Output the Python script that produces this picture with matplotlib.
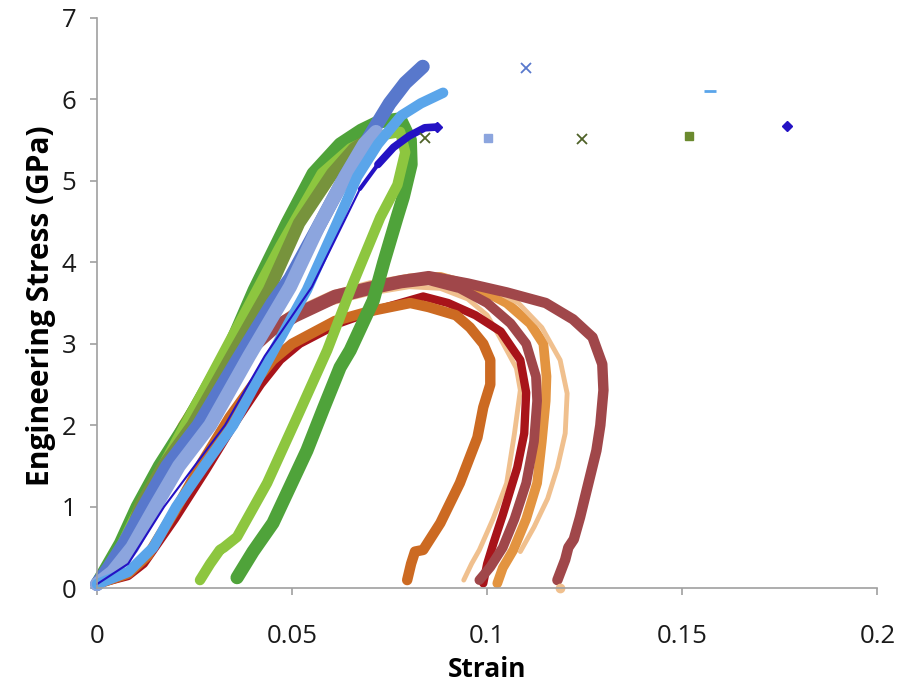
import matplotlib
matplotlib.use("Agg")
import matplotlib.pyplot as plt

plt.rcParams['font.family'] = ['Open Sans', 'DejaVu Sans']

# ---- orange / red group (lower peak, long tail) ----
tan_left_x = [0, 0.006, 0.012, 0.02, 0.03, 0.04, 0.05, 0.06, 0.07, 0.08, 0.088, 0.095, 0.1, 0.103, 0.1075, 0.1085, 0.107, 0.105, 0.1015, 0.098, 0.096, 0.094]
tan_left_y = [0.05, 0.4, 0.95, 1.7, 2.45, 3.0, 3.3, 3.5, 3.62, 3.7, 3.68, 3.55, 3.35, 3.1, 2.7, 2.43, 1.9, 1.29, 0.85, 0.47, 0.3, 0.1]

red_x = [0, 0.008, 0.012, 0.02, 0.028, 0.035, 0.042, 0.047, 0.052, 0.062, 0.072, 0.0836, 0.09, 0.097, 0.1035, 0.1085, 0.11, 0.1095, 0.1077, 0.104, 0.1016, 0.1, 0.099]
red_y = [0.05, 0.15, 0.3, 0.85, 1.45, 2.0, 2.5, 2.8, 3.0, 3.25, 3.42, 3.58, 3.5, 3.35, 3.15, 2.8, 2.4, 1.9, 1.48, 0.9, 0.55, 0.3, 0.06]

orange_x = [0, 0.005, 0.01, 0.016, 0.022, 0.03, 0.04, 0.05, 0.06, 0.07, 0.08, 0.088, 0.097, 0.105, 0.111, 0.1144, 0.1152, 0.115, 0.114, 0.1128, 0.11, 0.1067, 0.104, 0.1026]
orange_y = [0.05, 0.4, 0.9, 1.45, 2.0, 2.6, 3.05, 3.35, 3.55, 3.7, 3.8, 3.82, 3.7, 3.5, 3.25, 3.0, 2.6, 2.3, 1.8, 1.29, 0.85, 0.47, 0.25, 0.06]

tan_right_x = [0, 0.006, 0.012, 0.02, 0.03, 0.04, 0.05, 0.06, 0.07, 0.08, 0.09, 0.1, 0.108, 0.114, 0.1187, 0.1205, 0.12, 0.118, 0.1155, 0.112, 0.1085]
tan_right_y = [0.05, 0.35, 0.9, 1.6, 2.4, 3.0, 3.4, 3.62, 3.75, 3.83, 3.82, 3.7, 3.5, 3.2, 2.8, 2.39, 1.9, 1.48, 1.1, 0.75, 0.45]

brown_in_x = [0, 0.006, 0.012, 0.02, 0.03, 0.038, 0.045, 0.0508, 0.061, 0.07, 0.078, 0.085, 0.093, 0.1, 0.106, 0.11, 0.1125, 0.1128, 0.112, 0.11, 0.107, 0.104, 0.1008, 0.098]
brown_in_y = [0.05, 0.3, 0.8, 1.5, 2.3, 2.85, 3.15, 3.32, 3.55, 3.66, 3.74, 3.78, 3.68, 3.5, 3.25, 3.0, 2.6, 2.3, 1.8, 1.29, 0.85, 0.5, 0.26, 0.1]

dkorange_x = [0, 0.008, 0.013, 0.02, 0.027, 0.034, 0.04, 0.045, 0.05, 0.061, 0.07, 0.0803, 0.085, 0.092, 0.0956, 0.099, 0.1008, 0.1008, 0.099, 0.0975, 0.093, 0.088, 0.0836, 0.0815, 0.0805, 0.0795]
dkorange_y = [0.05, 0.18, 0.4, 0.95, 1.55, 2.1, 2.5, 2.8, 3.0, 3.28, 3.4, 3.5, 3.45, 3.35, 3.2, 3.0, 2.8, 2.5, 2.22, 1.85, 1.29, 0.8, 0.47, 0.45, 0.3, 0.1]

brown_x = [0, 0.006, 0.012, 0.02, 0.03, 0.038, 0.045, 0.0508, 0.061, 0.07, 0.078, 0.085, 0.095, 0.105, 0.115, 0.122, 0.127, 0.1295, 0.1298, 0.129, 0.128, 0.126, 0.1238, 0.1222, 0.1208, 0.12, 0.118]
brown_y = [0.05, 0.3, 0.8, 1.5, 2.35, 2.9, 3.2, 3.37, 3.6, 3.7, 3.78, 3.83, 3.74, 3.63, 3.5, 3.3, 3.08, 2.75, 2.43, 2.0, 1.69, 1.3, 0.87, 0.6, 0.5, 0.35, 0.1]

# ---- green group ----
dkgreen_x = [0, 0.003, 0.006, 0.0103, 0.016, 0.0233, 0.0336, 0.0403, 0.0487, 0.0554, 0.0623, 0.0677, 0.072, 0.0777, 0.0803, 0.0805, 0.0785, 0.0769, 0.0735, 0.0708, 0.0649, 0.0623, 0.058, 0.0538, 0.0495, 0.0451, 0.04, 0.0359]
dkgreen_y = [0.05, 0.3, 0.55, 1.0, 1.5, 2.05, 2.92, 3.66, 4.48, 5.09, 5.45, 5.62, 5.72, 5.76, 5.5, 5.2, 4.8, 4.55, 4.0, 3.53, 2.92, 2.71, 2.2, 1.69, 1.25, 0.8, 0.45, 0.13]

ltgreen_x = [0, 0.005, 0.011, 0.018, 0.027, 0.037, 0.047, 0.0576, 0.065, 0.072, 0.0777, 0.079, 0.077, 0.0726, 0.0656, 0.059, 0.0513, 0.0436, 0.0359, 0.0325, 0.0315, 0.029, 0.0264]
ltgreen_y = [0.05, 0.4, 1.0, 1.6, 2.4, 3.3, 4.2, 5.09, 5.4, 5.55, 5.6, 5.35, 4.95, 4.55, 3.74, 2.92, 2.1, 1.29, 0.63, 0.5, 0.47, 0.3, 0.1]

olive_x = [0, 0.004, 0.008, 0.011, 0.017, 0.0245, 0.0345, 0.0441, 0.0518, 0.0603, 0.066, 0.071]
olive_y = [0.05, 0.3, 0.55, 1.0, 1.5, 2.0, 2.85, 3.66, 4.48, 5.09, 5.4, 5.55]

# ---- blue group ----
medblue_x = [0, 0.003, 0.007, 0.012, 0.018, 0.026, 0.036, 0.045, 0.0495, 0.0569, 0.0636, 0.0675, 0.0708, 0.075, 0.079, 0.0835]
medblue_y = [0.05, 0.25, 0.55, 1.0, 1.5, 2.0, 2.8, 3.5, 3.8, 4.45, 5.05, 5.35, 5.62, 5.95, 6.2, 6.4]

lavender_x = [0, 0.004, 0.009, 0.0149, 0.021, 0.029, 0.039, 0.0495, 0.0569, 0.0636, 0.0685, 0.0715]
lavender_y = [0.05, 0.2, 0.5, 1.0, 1.5, 2.0, 2.85, 3.7, 4.45, 5.05, 5.45, 5.6]

ltblue_x = [0, 0.008, 0.0144, 0.0203, 0.0275, 0.0349, 0.0445, 0.0538, 0.0615, 0.0667, 0.072, 0.078, 0.083, 0.0887]
ltblue_y = [0.05, 0.2, 0.5, 1.0, 1.5, 2.0, 2.85, 3.66, 4.48, 5.05, 5.45, 5.8, 5.95, 6.08]

dkblue_x = [0, 0.008, 0.0172, 0.025, 0.0328, 0.043, 0.0551, 0.0631, 0.0674, 0.072, 0.076, 0.08, 0.084, 0.0872]
dkblue_y = [0.05, 0.3, 1.0, 1.5, 2.0, 2.85, 3.7, 4.48, 4.9, 5.2, 5.41, 5.55, 5.65, 5.66]

# isolated end points (strain, stress)
medblue_pt = (0.11, 6.38)
ltblue_pt = (0.157, 6.1)
lavender_pt = (0.1003, 5.53)
green_x_pts = ([0.0841, 0.1244], [5.52, 5.51])
olive_pt = (0.1518, 5.55)
dkblue_pt = (0.1769, 5.67)
tan_pt = (0.1187, 0.0)

fig = plt.figure(figsize=(8.98, 6.84), dpi=100)
ax = fig.add_axes([0.108, 0.140, 0.869, 0.834])

def line(x, y, c, lw):
    ax.plot(x, y, color=c, lw=lw, solid_capstyle='round', solid_joinstyle='round', clip_on=False)

line(tan_left_x, tan_left_y, '#F0C08E', 3.5)
line(red_x, red_y, '#A8141A', 6)
line(orange_x, orange_y, '#E39440', 7)
line(tan_right_x, tan_right_y, '#F0C08E', 3.5)
line(brown_in_x, brown_in_y, '#A0474A', 7)
line(dkorange_x, dkorange_y, '#CC6A22', 7.5)
line(brown_x, brown_y, '#A0474A', 7.5)

line(dkgreen_x, dkgreen_y, '#4FA33A', 9.5)
line(ltgreen_x, ltgreen_y, '#8DC63F', 7.5)
line(olive_x, olive_y, '#77933C', 9)

line(medblue_x, medblue_y, '#5878CC', 10)
line(lavender_x, lavender_y, '#8CA5DE', 10)
line(ltblue_x, ltblue_y, '#5AA5EA', 7.5)
line(dkblue_x, dkblue_y, '#2412C4', 1.5)
line(dkblue_x[8:], dkblue_y[8:], '#2412C4', 3)
line(dkblue_x[9:], dkblue_y[9:], '#2412C4', 5.5)

ax.plot(*medblue_pt, marker='x', color='#5878CC', ms=7, mew=1.3, ls='none')
ax.plot(medblue_x[-1], medblue_y[-1], marker='x', color='#5878CC', ms=6, mew=1.3, ls='none')
ax.plot(*ltblue_pt, marker='_', color='#5AA5EA', ms=8, mew=2, ls='none')
ax.plot(*lavender_pt, marker='s', color='#8CA5DE', ms=6, ls='none')
ax.plot(green_x_pts[0], green_x_pts[1], marker='x', color='#4F6228', ms=7, mew=1.3, ls='none')
ax.plot(*olive_pt, marker='s', color='#6B8A2E', ms=6, ls='none')
ax.plot(*dkblue_pt, marker='D', color='#2412C4', ms=5, ls='none')
ax.plot(dkblue_x[-1], dkblue_y[-1], marker='D', color='#2412C4', ms=5, ls='none')
ax.plot(*tan_pt, marker='o', color='#F0C08E', ms=6, ls='none', clip_on=False)

ax.set_xlim(0, 0.2)
ax.set_ylim(0, 7)
ax.set_xticks([0, 0.05, 0.1, 0.15, 0.2])
ax.set_xticklabels(['0', '0.05', '0.1', '0.15', '0.2'])
ax.set_yticks(range(0, 8))

for s in ['top', 'right']:
    ax.spines[s].set_visible(False)
for s in ['left', 'bottom']:
    ax.spines[s].set_color('#A0A0A0')
    ax.spines[s].set_linewidth(1.2)
ax.tick_params(axis='both', direction='out', length=5, width=1.2, color='#A0A0A0',
               labelsize=18.5, labelcolor='#1a1a1a')
ax.tick_params(axis='x', pad=21)
ax.tick_params(axis='y', pad=10)

ax.set_xlabel('Strain', fontsize=19, fontweight='bold')
ax.set_ylabel('Engineering Stress (GPa)', fontsize=21.5, fontweight='bold')
ax.xaxis.set_label_coords(0.5, -0.118)
ax.yaxis.set_label_coords(-0.052, 0.495)

fig.savefig('out.png', dpi=100)
